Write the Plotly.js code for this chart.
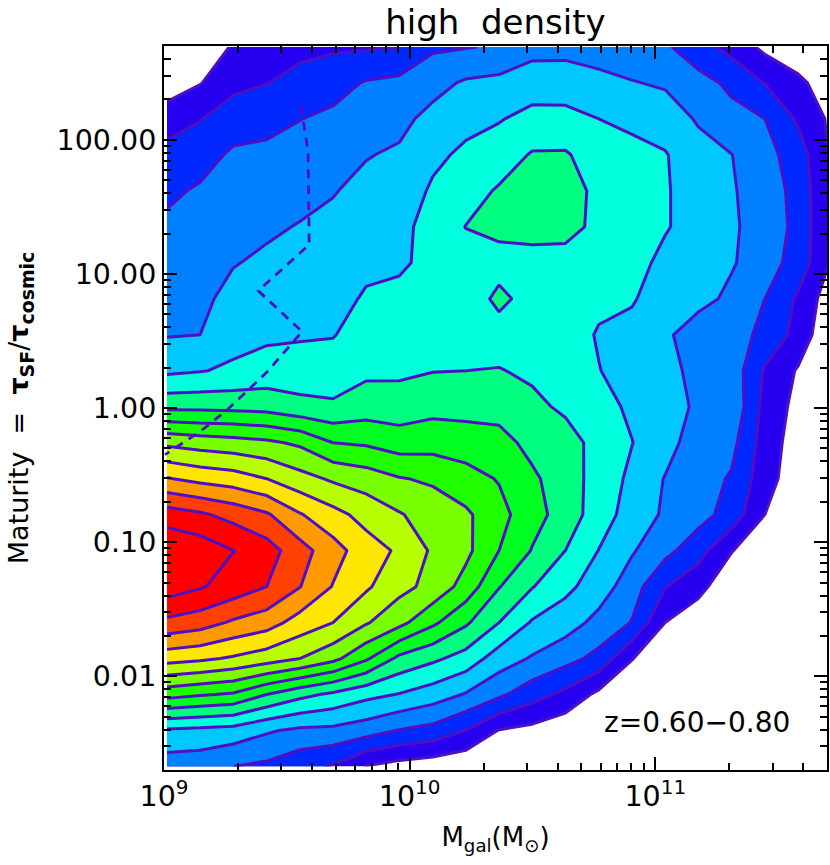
<!DOCTYPE html>
<html>
<head>
<meta charset="utf-8">
<script src="https://cdn.plot.ly/plotly-3.0.1.min.js"></script>
<style>html,body{margin:0;padding:0;background:#fff}#chart{width:830px;height:865px}</style>
</head>
<body>
<div id="chart"></div>
<script>
// grid of the density map: log10 stellar mass (columns), log10 maturity (rows, top to bottom)
const logMass = [9.012,9.147,9.282,9.418,9.553,9.688,9.823,9.958,10.094,10.229,10.364,10.499,10.634,10.770,10.905,11.040,11.175,11.310,11.446,11.581,11.716];
const logMaturity = [2.692,2.424,2.156,1.888,1.619,1.351,1.083,0.814,0.546,0.278,0.010,-0.259,-0.527,-0.795,-1.063,-1.332,-1.600,-1.868,-2.136,-2.405,-2.673];

// density level, one list per mass column
const density = [
 [0.2,0.4,1.55,2.31,2.83,3.17,3.43,3.68,3.94,4.79,6.73,9.78,12.07,14.5,15.9,15.55,13.75,11.4,8.38,4.85,3.46],
 [0.3,0.95,1.95,2.65,3.11,3.33,3.55,3.78,4.0,4.95,6.73,9.55,11.7,14.16,15.6,15.09,13.45,11.2,8.1,4.73,3.4],
 [1.1,1.7,2.57,3.14,3.4,3.68,3.95,4.3,4.67,5.15,6.7,9.4,11.47,13.67,15.02,14.6,12.85,10.87,7.88,4.6,3.0],
 [1.45,1.97,2.72,3.2,3.52,3.85,4.17,4.5,4.82,5.41,6.62,9.19,11.0,13.13,14.45,14.0,12.45,10.47,7.0,4.12,2.8],
 [1.7,2.37,2.98,3.35,3.71,4.05,4.33,4.62,4.9,5.41,6.3,8.83,10.36,12.08,13.4,13.03,11.58,10.0,6.3,3.8,2.3],
 [1.85,2.64,3.2,3.58,3.95,4.21,4.46,4.7,4.95,5.47,6.15,8.0,9.85,11.33,12.4,11.95,11.0,9.29,5.8,3.76,1.9],
 [1.9,3.08,3.52,3.95,4.25,4.53,4.81,5.1,5.45,5.8,6.5,7.86,9.52,10.65,11.45,11.15,10.09,8.15,5.28,3.45,0.95],
 [2.0,3.26,3.75,4.13,4.38,4.63,4.89,5.19,5.51,5.83,6.44,7.52,9.06,10.08,10.85,10.3,9.3,6.75,4.95,2.95,0.6],
 [2.85,3.67,4.29,4.77,5.15,5.5,5.2,5.35,5.55,5.97,6.7,7.6,8.85,9.55,9.85,9.7,8.2,6.2,4.5,2.67,0.4],
 [2.95,4.13,4.7,5.2,5.62,6.02,5.6,5.45,5.65,6.0,6.65,7.5,8.38,9.17,9.25,8.6,7.15,5.6,3.92,1.96,0.2],
 [3.1,4.27,4.93,5.52,6.1,6.25,5.65,6.22,5.61,6.04,6.68,7.3,7.93,8.35,8.0,7.05,6.0,4.5,3.2,0.95,0],
 [3.68,4.5,5.32,6.08,6.45,6.35,5.65,5.65,5.7,5.85,6.2,6.75,7.15,7.35,6.95,6.05,4.9,3.9,2.4,0.7,0],
 [3.7,4.5,5.3,6.1,6.5,6.3,5.65,5.4,5.45,5.6,5.85,6.35,6.55,6.6,6.0,5.25,4.45,3.35,1.75,0.3,0],
 [3.45,4.34,5.0,5.5,5.72,5.78,5.5,5.2,4.92,5.03,5.3,5.71,5.55,5.45,4.98,4.5,3.7,2.7,0.75,0,0],
 [3.4,4.05,4.77,5.3,5.45,5.55,5.35,5.12,4.6,4.6,4.85,5.02,4.8,4.6,4.1,3.47,2.95,1.05,0,0,0],
 [3.15,3.88,4.5,5.07,5.08,5.08,4.75,4.33,4.2,4.3,4.45,4.45,3.95,3.85,3.3,2.05,1.0,0,0,0,0],
 [2.4,3.35,3.9,4.35,4.6,4.6,4.4,4.35,3.4,3.72,3.83,3.39,3.45,3.38,2.4,1.3,0.4,0,0,0,0],
 [1.65,2.8,3.3,4.02,4.1,4.15,4.1,3.77,3.6,3.6,3.8,3.3,2.9,2.6,1.05,0.3,0,0,0,0,0],
 [0.75,1.97,3.0,3.35,3.5,3.55,3.45,3.0,2.65,1.9,1.65,1.55,1.4,1.0,0.3,0,0,0,0,0,0],
 [0.4,1.2,1.85,2.5,2.7,2.75,2.6,1.85,1.7,0.9,0.7,0.5,0.4,0.2,0,0,0,0,0,0,0],
 [0.1,0.5,0.8,0.85,0.85,0.85,0.9,0.4,0.05,0,0,0,0,0,0,0,0,0,0,0,0]
];

// dashed track
const trackMass = [3.61e9,3.86e9,3.90e9,2.42e9,3.65e9,2.63e9,1.81e9,1.40e9,1.01e9];
const trackMaturity = [179,81.3,16.5,7.48,3.71,1.86,0.97,0.665,0.449];

// colours of the bands: below the first level, then one per level
const bandColours = ['#ffffff','#2800f0','#0028ff','#0080ff','#00c8ff','#00ffdc','#00ff80','#00ff20','#20ff00','#78ff00','#b8ff00','#ffe600','#ff9900','#ff4000','#ff0000','#ff0000'];
const lineColour = '#4f0fc4';

const xTickVals = [1e9,1e10,1e11];
const xTickText = ['10<sup>9</sup>','10<sup>10</sup>','10<sup>11</sup>'];
const yTickVals = [100,10,1,0.1,0.01];
const yTickText = ['100.00','10.00','1.00','0.10','0.01'];

const FONT = '"DejaVu Sans", sans-serif';
const nLevels = bandColours.length - 1;

const traces = [{
  type: 'contour',
  x: logMass.map(v => Math.pow(10, v)),
  y: logMaturity.map(v => Math.pow(10, v)),
  z: density,
  transpose: true,
  autocontour: false,
  contours: {start: 1, end: nLevels, size: 1, coloring: 'fill', showlines: true},
  line: {color: lineColour, width: 3, smoothing: 0},
  colorscale: bandColours.map((c, i) => [i / nLevels, c]),
  zauto: false, zmin: 0.5, zmax: nLevels + 0.5,
  showscale: false,
  connectgaps: false,
  hoverinfo: 'skip'
},{
  type: 'scatter',
  mode: 'lines',
  x: trackMass,
  y: trackMaturity,
  line: {color: lineColour, width: 2.8, dash: '9px,7px'},
  cliponaxis: false,
  hoverinfo: 'skip'
}];

const axisCommon = {
  type: 'log',
  showgrid: false, zeroline: false,
  showline: true, linecolor: '#000', linewidth: 2,
  mirror: 'allticks',
  ticks: 'inside', ticklen: 13, tickwidth: 2, tickcolor: '#000',
  tickfont: {family: FONT, size: 28.5, color: '#000'},
  tickmode: 'array',
  layer: 'above traces',
  minor: {ticks: 'inside', ticklen: 7, tickwidth: 2, tickcolor: '#000', dtick: 'D1', showgrid: false}
};

const layout = {
  width: 830, height: 865,
  margin: {l: 164, r: 3, t: 46, b: 95, pad: 0},
  paper_bgcolor: '#fff', plot_bgcolor: '#fff',
  showlegend: false,
  title: {text: 'high\u00a0\u00a0density', font: {family: FONT, size: 34, color: '#000'},
          x: 0.597, xanchor: 'center', y: 0.974, yanchor: 'middle', xref: 'container', yref: 'container'},
  xaxis: Object.assign({}, axisCommon, {
    range: [9, 11.699], tickvals: xTickVals, ticktext: xTickText,
    title: {text: 'M<sub>gal</sub>(M<sub>⊙</sub>)', font: {family: FONT, size: 26, color: '#000'}, standoff: 16}
  }),
  yaxis: Object.assign({}, axisCommon, {
    range: [-2.699, 2.699], tickvals: yTickVals, ticktext: yTickText,
    title: {text: 'Maturity\u00a0\u00a0=\u00a0\u00a0<b>τ</b><sub><b>SF</b></sub>/<b>τ</b><sub><b>cosmic</b></sub>', font: {family: FONT, size: 27, color: '#000'}, standoff: 20}
  }),
  annotations: [{
    text: 'z=0.60−0.80', xref: 'paper', yref: 'paper',
    x: 0.947, y: 0.066, xanchor: 'right', yanchor: 'middle', showarrow: false,
    font: {family: FONT, size: 28, color: '#000'}
  }]
};

Plotly.newPlot('chart', traces, layout, {displayModeBar: false, staticPlot: true});
</script>
</body>
</html>
